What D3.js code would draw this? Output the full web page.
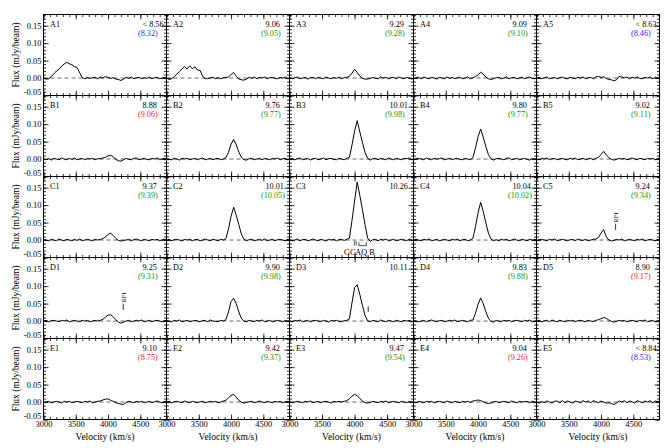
<!DOCTYPE html>
<html lang="en">
  <head>
    <meta charset="UTF-8" />
    <title>HI spectra grid</title>
    <style>
      body { margin: 0; background: #fff; }
      svg text { font-family: "Liberation Serif", "DejaVu Serif", serif; }
    </style>
  </head>
  <body>
    <div id="wrapper"></div>
    <script src="https://cdn.jsdelivr.net/npm/d3@7"></script>
    <script>
      // panel names, row by row (A..E), columns 1..5
      const panelNames = ["A1","A2","A3","A4","A5","B1","B2","B3","B4","B5","C1","C2","C3","C4","C5",
                          "D1","D2","D3","D4","D5","E1","E2","E3","E4","E5"];
      const topValues = ["< 8.56","9.06","9.29","9.09","< 8.63","8.88","9.76","10.01","9.80","9.02",
                         "9.37","10.01","10.26","10.04","9.24","9.25","9.90","10.11","9.83","8.90",
                         "9.10","9.42","9.47","9.04","< 8.84"];
      const fitValues = ["(8.32)","(9.05)","(9.28)","(9.10)","(8.46)","(9.06)","(9.77)","(9.98)","(9.77)","(9.11)",
                         "(9.39)","(10.05)","","(10.02)","(9.34)","(9.31)","(9.98)","","(9.88)","(9.17)",
                         "(8.75)","(9.37)","(9.54)","(9.26)","(8.53)"];
      const fitClass = ["limit","match","match","match","limit","off","match","match","match","match",
                        "match","match","none","match","match","match","match","none","match","off",
                        "off","match","match","off","limit"];

      const xTickLabels = [3000, 3500, 4000, 4500];
      const yTickLabels = [-0.05, 0.00, 0.05, 0.10, 0.15];

      // channel velocities (km/s)
      const velocity = [3000,3040,3080,3120,3160,3200,3240,3280,3320,3360,
                        3400,3440,3480,3520,3560,3600,3640,3680,3720,3760,
                        3800,3840,3880,3920,3960,4000,4040,4080,4120,4160,
                        4200,4240,4280,4320,4360,4400,4440,4480,4520,4560,
                        4600,4640,4680,4720,4760,4800,4840,4880,4920];

      // flux (mJy/beam) per panel
      const A1 = [0.001,-0.003,-0.002,0.004,0.012,0.020,0.025,0.034,0.040,0.045,
                  0.041,0.038,0.033,0.030,0.015,0.001,-0.002,0.002,-0.001,0.001,
                  0.002,-0.002,0.003,0.000,0.004,0.002,-0.001,0.001,-0.003,-0.004,
                  -0.007,-0.003,0.002,-0.001,0.003,-0.002,0.001,0.002,-0.002,0.001,
                  -0.001,0.003,-0.002,0.001,0.002,-0.002,0.000,0.002,-0.001];
      const A2 = [0.001,-0.004,-0.002,0.004,0.011,0.019,0.026,0.033,0.026,0.035,
                  0.027,0.032,0.023,0.022,0.005,-0.001,-0.002,0.001,0.002,-0.002,
                  0.001,-0.002,0.001,0.002,0.003,0.010,0.016,0.005,-0.003,-0.005,
                  -0.006,-0.003,0.002,-0.001,0.003,-0.002,0.002,0.000,0.003,-0.002,
                  0.001,0.002,-0.001,-0.002,0.002,0.000,0.003,-0.002,0.001];
      const A3 = [0.002,-0.002,0.001,0.003,-0.002,0.000,0.002,-0.003,0.001,0.002,
                  -0.002,0.002,0.000,-0.002,0.003,0.000,-0.002,0.002,-0.001,0.003,
                  -0.002,0.001,0.002,0.005,0.014,0.025,0.016,0.006,-0.001,-0.003,
                  -0.003,-0.001,0.002,-0.001,-0.002,0.003,0.000,0.002,-0.002,0.001,
                  0.002,-0.002,0.003,0.000,-0.002,0.002,0.000,-0.003,0.002];
      const A4 = [-0.002,0.001,0.002,-0.002,0.003,0.000,-0.002,0.002,0.000,-0.003,
                  0.002,0.000,-0.002,0.003,-0.001,0.002,-0.002,0.001,0.002,-0.002,
                  0.000,0.003,-0.002,0.001,0.004,0.009,0.017,0.011,0.003,-0.002,
                  -0.004,-0.002,0.001,0.002,-0.002,0.000,0.003,-0.002,0.001,0.002,
                  -0.002,0.000,0.002,-0.002,0.001,0.003,-0.001,-0.002,0.001];
      const A5 = [0.000,0.002,-0.002,0.001,0.003,-0.002,0.000,0.002,-0.002,0.001,
                  0.003,-0.001,-0.002,0.002,0.000,-0.002,0.002,0.000,0.003,-0.002,
                  0.001,0.002,-0.002,0.003,0.005,0.001,0.004,-0.001,-0.004,-0.005,
                  -0.008,-0.005,0.005,0.003,0.001,0.003,-0.002,0.002,0.000,0.003,
                  -0.001,-0.002,0.002,0.000,0.003,-0.002,0.002,0.000,0.002];
      const B1 = [0.001,-0.002,0.002,-0.003,0.002,0.000,-0.002,0.003,0.000,-0.002,
                  0.002,-0.001,0.003,-0.002,0.000,0.002,-0.002,0.002,0.000,0.002,
                  -0.002,0.001,0.001,0.003,0.005,0.009,0.011,0.007,-0.001,-0.005,
                  -0.006,-0.002,0.002,-0.001,-0.002,0.002,0.003,-0.002,0.000,0.002,
                  -0.001,-0.002,0.002,0.000,0.003,-0.002,0.001,0.002,-0.002];
      const B2 = [0.002,-0.001,-0.002,0.002,0.000,-0.003,0.002,0.000,0.002,-0.002,
                  0.000,0.002,-0.002,0.001,0.003,-0.002,0.000,0.002,-0.002,0.001,
                  0.002,-0.002,0.000,0.004,0.019,0.043,0.056,0.041,0.020,0.005,
                  -0.002,-0.003,0.001,0.002,-0.002,0.000,0.002,-0.002,0.002,0.000,
                  -0.002,0.002,0.000,0.003,-0.002,0.001,0.002,-0.002,0.000];
      const B3 = [0.000,0.002,-0.002,0.001,0.003,-0.002,0.000,0.002,-0.003,0.001,
                  0.002,-0.002,0.000,0.003,-0.002,0.001,0.002,-0.001,-0.002,0.002,
                  0.000,-0.002,0.002,0.005,0.040,0.080,0.110,0.078,0.048,0.019,
                  0.002,-0.003,0.001,0.002,-0.002,0.002,0.000,-0.002,0.003,0.000,
                  -0.002,0.002,0.000,-0.002,0.002,0.001,0.003,-0.002,0.001];
      const B4 = [-0.002,0.001,0.002,0.000,-0.002,0.003,0.000,-0.002,0.002,0.000,
                  0.001,0.003,-0.002,0.000,0.002,-0.002,0.001,0.002,-0.001,-0.002,
                  0.002,0.000,-0.002,0.004,0.032,0.064,0.086,0.063,0.036,0.013,
                  0.001,-0.003,0.001,0.002,0.000,-0.002,0.002,0.003,-0.002,0.000,
                  0.002,-0.002,0.000,0.002,-0.001,-0.003,0.002,0.000,0.002];
      const B5 = [0.000,-0.002,0.002,0.000,0.003,-0.002,0.001,0.002,-0.002,0.000,
                  0.002,-0.001,-0.002,0.002,0.000,0.003,-0.002,0.000,0.002,-0.002,
                  0.001,0.002,-0.002,0.002,0.005,0.013,0.022,0.012,0.004,-0.001,
                  -0.003,-0.001,0.002,0.000,0.002,-0.002,0.000,0.003,0.000,-0.002,
                  0.002,0.000,-0.002,0.002,0.000,0.002,-0.002,0.001,0.002];
      const C1 = [0.002,0.000,-0.002,0.002,0.000,-0.002,0.003,0.000,-0.002,0.002,
                  0.000,-0.002,0.002,-0.001,0.003,-0.002,0.000,0.002,0.000,-0.002,
                  0.002,0.000,0.002,0.004,0.009,0.016,0.020,0.013,0.005,-0.001,
                  -0.003,-0.001,0.000,0.002,-0.002,0.001,0.003,0.000,-0.002,0.002,
                  0.000,-0.002,0.002,0.000,0.002,-0.002,0.001,0.002,0.000];
      const C2 = [0.000,0.002,-0.002,0.001,0.002,0.000,-0.003,0.002,0.000,0.002,
                  -0.002,0.001,0.002,-0.002,0.000,0.003,0.000,-0.002,0.002,0.000,
                  -0.002,0.002,0.000,0.004,0.032,0.068,0.094,0.071,0.044,0.017,
                  0.002,-0.002,0.001,0.002,-0.002,0.000,0.002,-0.001,0.003,-0.002,
                  0.000,0.002,-0.002,0.001,0.002,0.000,-0.002,0.002,0.000];
      const C3 = [0.002,-0.002,0.000,0.003,-0.002,0.001,0.002,-0.002,0.000,0.003,
                  0.000,-0.002,0.002,0.000,-0.003,0.002,0.000,0.002,-0.002,0.001,
                  0.002,-0.001,0.002,0.005,0.056,0.112,0.166,0.128,0.088,0.044,
                  0.006,-0.004,0.001,0.002,-0.002,0.002,0.000,0.003,-0.002,0.000,
                  0.002,-0.002,0.000,0.002,0.000,-0.002,0.003,0.000,-0.002];
      const C4 = [0.000,0.002,0.000,-0.002,0.002,0.000,0.003,-0.002,0.000,0.002,
                  -0.002,0.000,0.002,0.000,-0.002,0.002,0.000,0.003,-0.002,0.001,
                  0.002,-0.002,0.000,0.005,0.038,0.078,0.108,0.082,0.050,0.020,
                  0.003,-0.002,0.001,-0.002,0.002,0.000,0.002,-0.002,0.000,0.003,
                  0.000,-0.002,0.002,0.000,-0.002,0.002,0.000,0.002,-0.002];
      const C5 = [-0.002,0.001,0.002,0.000,-0.002,0.002,0.000,0.003,-0.002,0.000,
                  0.002,0.000,-0.002,0.001,0.002,-0.002,0.003,0.000,-0.001,0.002,
                  -0.002,0.000,0.002,0.003,0.007,0.020,0.030,0.010,0.000,-0.003,
                  -0.001,0.002,0.000,0.003,-0.002,0.000,0.002,0.000,-0.002,0.002,
                  0.000,0.003,-0.002,0.000,0.002,0.000,-0.002,0.002,0.000];
      const D1 = [0.000,0.002,-0.002,0.001,0.002,0.000,-0.002,0.002,0.000,0.003,
                  -0.002,0.000,0.002,0.000,-0.002,0.002,0.000,0.002,-0.002,0.000,
                  0.002,0.000,0.002,0.005,0.011,0.017,0.018,0.012,0.004,-0.003,
                  -0.006,-0.003,0.000,0.002,-0.002,0.000,0.002,0.000,0.003,-0.002,
                  0.000,0.002,-0.002,0.001,0.002,0.000,-0.002,0.002,0.000];
      const D2 = [0.002,0.000,-0.002,0.002,0.000,0.003,-0.002,0.000,0.002,-0.002,
                  0.000,0.002,0.000,-0.002,0.002,0.001,-0.002,0.003,0.000,-0.001,
                  -0.002,0.002,0.000,0.004,0.026,0.056,0.065,0.050,0.026,0.007,
                  0.000,-0.002,0.002,0.000,-0.002,0.002,0.000,0.003,-0.002,0.000,
                  0.002,-0.002,0.000,0.002,0.000,-0.002,0.002,0.000,0.002];
      const D3 = [0.000,-0.002,0.002,0.000,0.003,-0.002,0.000,0.002,-0.002,0.001,
                  0.002,0.000,-0.002,0.002,0.000,-0.003,0.002,0.000,0.002,-0.001,
                  -0.002,0.001,0.002,0.006,0.052,0.096,0.104,0.076,0.045,0.016,
                  0.001,-0.002,0.002,0.000,-0.002,0.003,0.000,-0.002,0.002,0.000,
                  -0.002,0.002,0.000,-0.002,0.002,0.000,0.002,-0.002,0.001];
      const D4 = [0.002,0.000,-0.002,0.000,0.002,-0.002,0.001,0.003,0.000,-0.002,
                  0.001,0.002,-0.002,0.000,0.002,0.000,0.003,-0.002,0.000,0.002,
                  0.000,-0.002,0.002,0.003,0.022,0.048,0.066,0.050,0.027,0.008,
                  -0.001,-0.003,0.002,0.000,-0.002,0.002,0.000,0.002,-0.002,0.001,
                  0.002,0.000,-0.002,0.002,0.000,0.003,-0.002,0.000,0.002];
      const D5 = [0.000,0.002,-0.002,0.001,0.002,-0.002,0.003,0.000,-0.002,0.002,
                  0.000,-0.002,0.002,0.000,0.002,-0.002,0.001,0.002,0.000,-0.002,
                  0.002,0.000,-0.002,0.002,0.004,0.007,0.010,0.008,0.003,-0.001,
                  -0.003,-0.001,0.002,0.000,0.002,-0.002,0.000,0.002,0.000,-0.002,
                  0.002,0.000,0.003,-0.002,0.000,0.002,-0.002,0.001,0.002];
      const E1 = [-0.002,0.001,0.002,-0.002,0.000,0.002,0.000,-0.003,0.002,0.000,
                  0.002,-0.002,0.000,0.002,0.000,-0.002,0.002,0.000,0.003,-0.002,
                  0.000,0.002,0.003,0.006,0.008,0.009,0.005,0.002,-0.002,-0.004,
                  -0.006,-0.007,-0.001,0.002,0.000,-0.002,0.002,0.000,0.002,-0.002,
                  0.000,0.002,-0.002,0.001,0.003,0.000,-0.002,0.002,0.000];
      const E2 = [0.000,0.002,-0.002,0.001,0.002,0.000,-0.002,0.003,0.000,-0.002,
                  0.002,0.000,-0.002,0.001,0.002,-0.002,0.000,0.002,0.000,0.002,
                  -0.002,0.000,0.003,0.005,0.012,0.019,0.022,0.014,0.005,0.000,
                  -0.003,-0.001,0.001,0.002,-0.002,0.000,0.003,0.000,-0.002,0.002,
                  0.000,-0.002,0.002,0.000,0.002,-0.002,0.001,0.002,-0.002];
      const E3 = [0.002,-0.002,0.000,0.002,0.000,-0.002,0.002,0.000,0.003,-0.002,
                  0.000,0.002,-0.002,0.001,0.002,0.000,-0.003,0.002,0.000,0.002,
                  0.000,0.002,0.004,0.009,0.017,0.022,0.018,0.010,0.003,-0.002,
                  -0.003,-0.001,0.002,0.000,-0.002,0.002,0.000,0.003,-0.002,0.000,
                  0.002,0.000,-0.002,0.002,0.000,-0.002,0.002,0.000,0.001];
      const E4 = [0.000,-0.002,0.002,0.000,-0.002,0.002,0.000,0.002,-0.002,0.001,
                  0.002,0.000,-0.002,0.003,0.000,-0.002,0.002,0.000,-0.002,0.002,
                  0.000,0.002,-0.001,0.003,0.004,0.006,0.004,0.001,-0.003,-0.004,
                  -0.003,0.000,0.002,-0.002,0.000,0.002,0.000,-0.002,0.003,0.000,
                  -0.002,0.002,0.000,0.001,0.002,-0.002,0.002,0.000,-0.002];
      const E5 = [0.000,-0.003,0.002,-0.002,0.003,0.000,-0.003,0.002,0.003,-0.002,
                  0.004,-0.002,0.003,0.000,-0.003,0.003,0.001,-0.002,0.004,0.000,
                  0.003,-0.002,0.004,0.001,-0.002,0.003,0.000,-0.003,-0.002,-0.004,
                  -0.007,-0.003,0.003,0.000,0.004,-0.002,0.003,0.001,-0.003,0.004,
                  0.001,-0.002,0.003,0.000,0.004,-0.002,0.003,0.001,0.004];
      const spectra = [A1,A2,A3,A4,A5,B1,B2,B3,B4,B5,C1,C2,C3,C4,C5,D1,D2,D3,D4,D5,E1,E2,E3,E4,E5];

      // RFI markers: panel, velocity, flux at the foot of the tick
      const rfiPanels = ["C5", "D1"];
      const rfiVelocity = [4225, 4235];
      const rfiFlux = [0.029, 0.032];
      // GCAQ B markers in C3
      const gcaqVelocity = [3995, 4025];
      const gcaqBracket = [4065, 4180];
      // D3 marker
      const d3MarkVelocity = 4209;

      const classColor = { limit: "#2a2aff", match: "#119911", off: "#ff2222", none: "#000" };

      const width = 672, height = 448;
      const colEdge = c => Math.round(43 + c * 123.2) + 0.5;
      const rowEdge = r => Math.floor(14 + r * 81.1) + 0.5;
      const xDomain = [3000, 4905], yDomain = [-0.05, 0.182];
      const tickFont = 8.5, noteFont = 8.2, titleFont = 9.5;

      const svg = d3.select("#wrapper").append("svg")
          .attr("width", width)
          .attr("height", height);

      const xMinor = d3.range(3000, 4901, 100);
      const yMinor = d3.range(-5, 19).map(d => d / 100);

      function inward(g, axis, transform, len) {
        g.append("g")
          .attr("transform", transform)
          .call(axis.tickSizeInner(-len).tickSizeOuter(0).tickFormat(""))
          .call(s => s.select(".domain").remove())
          .call(s => s.selectAll("line").attr("stroke-width", 0.8));
      }

      panelNames.forEach((name, i) => {
        const r = Math.floor(i / 5), c = i % 5;
        const x0 = colEdge(c), x1 = colEdge(c + 1), y0 = rowEdge(r), y1 = rowEdge(r + 1);
        const x = d3.scaleLinear().domain(xDomain).range([x0, x1]);
        const y = d3.scaleLinear().domain(yDomain).range([y1, y0]);
        const g = svg.append("g");

        g.append("clipPath").attr("id", "clip" + i)
          .append("rect").attr("x", x0).attr("y", y0).attr("width", x1 - x0).attr("height", y1 - y0);

        // zero line
        g.append("line")
          .attr("x1", x0).attr("x2", x1)
          .attr("y1", y(0)).attr("y2", y(0))
          .attr("stroke", "#444").attr("stroke-width", 0.8)
          .attr("stroke-dasharray", "4,3");

        // spectrum
        const line = d3.line().x((d, k) => x(velocity[k])).y(d => y(d));
        g.append("path")
          .datum(spectra[i])
          .attr("clip-path", "url(#clip" + i + ")")
          .attr("d", line)
          .attr("fill", "none")
          .attr("stroke", "#000")
          .attr("stroke-width", 1);

        // ticks on all four sides
        inward(g, d3.axisBottom(x).tickValues(xMinor), `translate(0,${y1})`, 2.5);
        inward(g, d3.axisBottom(x).tickValues(xTickLabels), `translate(0,${y1})`, 5);
        inward(g, d3.axisTop(x).tickValues(xMinor), `translate(0,${y0})`, 2.5);
        inward(g, d3.axisTop(x).tickValues(xTickLabels), `translate(0,${y0})`, 5);
        inward(g, d3.axisLeft(y).tickValues(yMinor), `translate(${x0},0)`, 2.5);
        inward(g, d3.axisLeft(y).tickValues(yTickLabels), `translate(${x0},0)`, 5);
        inward(g, d3.axisRight(y).tickValues(yMinor), `translate(${x1},0)`, 2.5);
        inward(g, d3.axisRight(y).tickValues(yTickLabels), `translate(${x1},0)`, 5);

        // frame
        g.append("rect")
          .attr("x", x0).attr("y", y0)
          .attr("width", x1 - x0).attr("height", y1 - y0)
          .attr("fill", "none").attr("stroke", "#000").attr("stroke-width", 1);

        // tick labels on outer panels
        if (c === 0) {
          g.append("g")
            .attr("transform", `translate(${x0},0)`)
            .call(d3.axisLeft(y).tickValues(yTickLabels).tickSize(0).tickPadding(2)
              .tickFormat(d => d.toFixed(2)))
            .call(s => s.select(".domain").remove())
            .attr("font-size", tickFont)
            .attr("font-family", "Liberation Serif")
            .call(s => s.selectAll("text").filter(d => d < 0).attr("y", -3.5));

          g.append("text")
            .attr("transform", `translate(18.5,${(y0 + y1) / 2}) rotate(-90)`)
            .attr("text-anchor", "middle")
            .attr("font-size", titleFont)
            .text("Flux (mJy/beam)");
        }
        if (r === 4) {
          g.append("g")
            .attr("transform", `translate(0,${y1})`)
            .call(d3.axisBottom(x).tickValues(xTickLabels).tickSize(0).tickPadding(1)
              .tickFormat(d3.format("d")))
            .call(s => s.select(".domain").remove())
            .attr("font-size", tickFont)
            .attr("font-family", "Liberation Serif");

          g.append("text")
            .attr("x", (x0 + x1) / 2)
            .attr("y", y1 + 20)
            .attr("text-anchor", "middle")
            .attr("font-size", titleFont)
            .text("Velocity (km/s)");
        }

        // panel labels and values
        g.append("text")
          .attr("x", x0 + 6.5).attr("y", y0 + 12.5)
          .attr("font-size", noteFont)
          .text(name);
        g.append("text")
          .attr("x", x1 - 24).attr("y", y0 + 12.5)
          .attr("font-size", noteFont)
          .text(topValues[i]);
        if (fitValues[i]) {
          g.append("text")
            .attr("x", x1 - 28.5).attr("y", y0 + 21.5)
            .attr("font-size", noteFont)
            .attr("fill", classColor[fitClass[i]])
            .text(fitValues[i]);
        }

        // RFI notes
        const ri = rfiPanels.indexOf(name);
        if (ri >= 0) {
          const vx = x(rfiVelocity[ri]);
          g.append("line")
            .attr("x1", vx).attr("x2", vx)
            .attr("y1", y(rfiFlux[ri])).attr("y2", y(rfiFlux[ri] + 0.018))
            .attr("stroke", "#000").attr("stroke-width", 0.8);
          g.append("text")
            .attr("transform", `translate(${vx + 2.3},${y(rfiFlux[ri] + 0.035)}) rotate(-90)`)
            .attr("text-anchor", "middle")
            .attr("font-size", 6.5)
            .text("RFI");
        }

        if (name === "C3") {
          gcaqVelocity.forEach(v => {
            g.append("line")
              .attr("x1", x(v)).attr("x2", x(v))
              .attr("y1", y(-0.003)).attr("y2", y(-0.016))
              .attr("stroke", "#000").attr("stroke-width", 0.7);
          });
          g.append("path")
            .attr("d", d3.line()([
              [x(gcaqBracket[0]), y(-0.006)], [x(gcaqBracket[0]), y(-0.016)],
              [x(gcaqBracket[1]), y(-0.016)], [x(gcaqBracket[1]), y(-0.006)]
            ]))
            .attr("fill", "none").attr("stroke", "#000").attr("stroke-width", 0.7);
          g.append("text")
            .attr("x", x(4073)).attr("y", y(-0.042))
            .attr("text-anchor", "middle")
            .attr("font-size", noteFont)
            .text("GCAQ B");
        }
        if (name === "D3") {
          g.append("line")
            .attr("x1", x(d3MarkVelocity)).attr("x2", x(d3MarkVelocity))
            .attr("y1", y(0.026)).attr("y2", y(0.042))
            .attr("stroke", "#000").attr("stroke-width", 0.8);
        }
      });
    </script>
  </body>
</html>
